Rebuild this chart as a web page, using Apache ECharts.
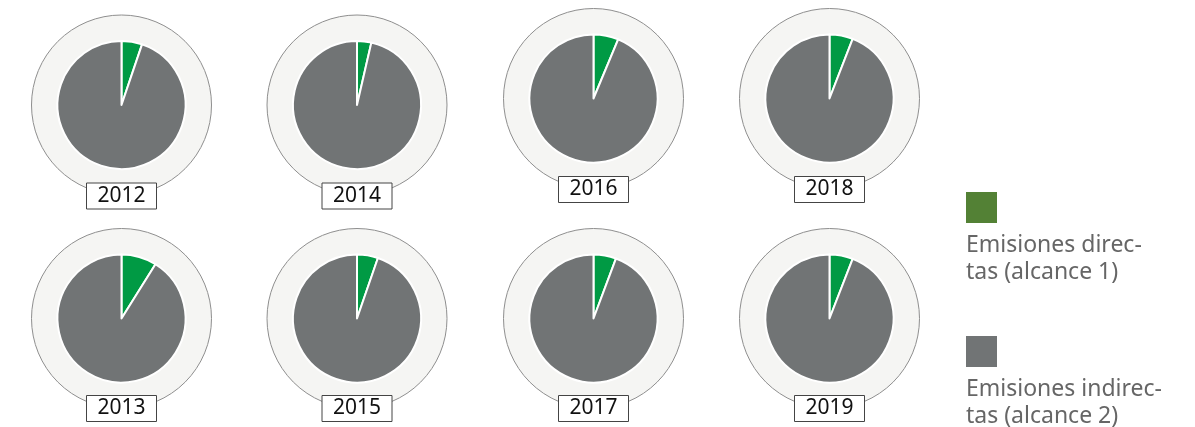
<!DOCTYPE html>
<html>
<head>
<meta charset="utf-8">
<style>
  html, body { margin: 0; padding: 0; background: #fff; }
  #chart { width: 1195px; height: 427px; }
</style>
<script src="https://cdn.jsdelivr.net/npm/echarts@6/dist/echarts.min.js"></script>
</head>
<body>
<div id="chart"></div>
<script>
// años y % de emisiones directas (alcance 1); el resto es alcance 2
const years = ["2012", "2014", "2016", "2018", "2013", "2015", "2017", "2019"];
const directas = [5.2, 3.6, 6.3, 5.9, 8.9, 5.3, 5.7, 5.9];
const seriesNames = ["Emisiones direc-\ntas (alcance 1)", "Emisiones indirec-\ntas (alcance 2)"];

// posición de cada gráfico en la página
const centers = [
  [121.5, 105], [357, 105], [593.5, 98.5], [829.5, 98.5],
  [121.5, 318.5], [357, 318.5], [593.5, 318.5], [829.5, 318.5],
];

const pieGreen = "#009a44";
const grey = "#717475";
const legendGreen = "#538135";

const chart = echarts.init(document.getElementById("chart"));

const series = [];
const graphic = [];

years.forEach((year, i) => {
  const c = centers[i];
  // anillo de fondo
  series.push({
    type: "pie",
    center: c,
    radius: [0, 90],
    silent: true,
    z: 1,
    label: { show: false },
    labelLine: { show: false },
    itemStyle: { color: "#f5f5f3", borderColor: "#8e8e8e", borderWidth: 1 },
    data: [{ value: 1, name: "fondo" }],
  });
  series.push({
    type: "pie",
    center: c,
    radius: [0, 64],
    startAngle: 90,
    clockwise: true,
    z: 2,
    label: { show: false },
    labelLine: { show: false },
    itemStyle: { borderColor: "#fff", borderWidth: 2 },
    data: [
      { value: directas[i], name: seriesNames[0], itemStyle: { color: pieGreen } },
      { value: 100 - directas[i], name: seriesNames[1], itemStyle: { color: grey } },
    ],
  });
  // etiqueta del año
  const boxY = i < 2 ? 183 : i < 4 ? 176.5 : 395.5;
  graphic.push({
    type: "rect",
    z: 100,
    shape: { x: c[0] - 35, y: boxY, width: 70, height: 26 },
    style: { fill: "#fff", stroke: "#444", lineWidth: 1 },
  });
  graphic.push({
    type: "text",
    z: 101,
    x: c[0],
    y: boxY + 13,
    style: {
      text: year,
      fill: "#111",
      font: "21px 'Noto Sans'",
      align: "center",
      verticalAlign: "middle",
    },
  });
});

// leyenda
const legendColors = [legendGreen, grey];
const legendTops = [192, 336];
seriesNames.forEach((name, k) => {
  graphic.push({
    type: "rect",
    shape: { x: 966, y: legendTops[k], width: 31, height: 31 },
    style: { fill: legendColors[k] },
  });
  graphic.push({
    type: "text",
    x: 966,
    y: legendTops[k] + 40,
    style: {
      text: name,
      fill: "#666",
      font: "23px 'Noto Sans'",
      lineHeight: 27,
      verticalAlign: "top",
    },
  });
});

chart.setOption({
  animation: false,
  series: series,
  graphic: graphic,
});
</script>
</body>
</html>
